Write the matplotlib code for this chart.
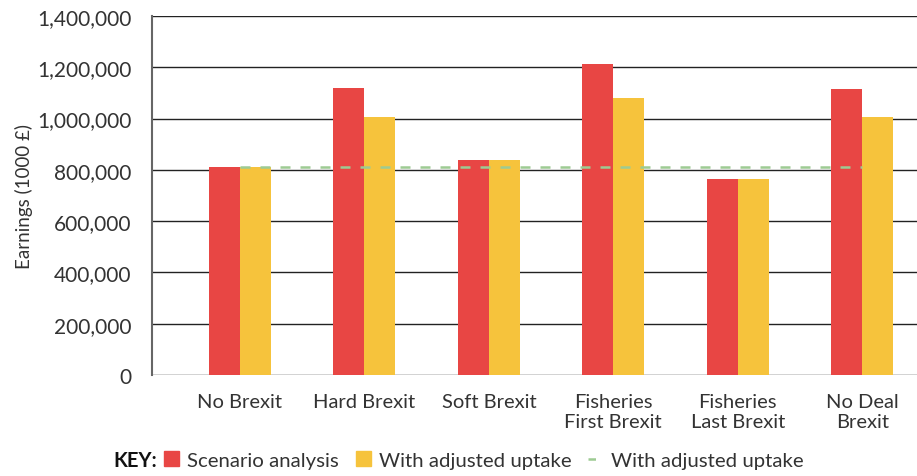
import matplotlib
matplotlib.use('Agg')
import matplotlib.pyplot as plt
from matplotlib.patches import Patch
from matplotlib.lines import Line2D
from matplotlib.ticker import FuncFormatter
import numpy as np

# data
scenarios = ['No Brexit', 'Hard Brexit', 'Soft Brexit', 'Fisheries\nFirst Brexit',
             'Fisheries\nLast Brexit', 'No Deal\nBrexit']
scenario_analysis = [811000, 1119000, 838000, 1213000, 764000, 1115000]
adjusted_uptake = [811000, 1006000, 838000, 1080000, 764000, 1006000]
baseline = 811000  # dashed reference line

red = '#E84644'
yellow = '#F6C33C'
green = '#9DCB93'
txt = '#333333'

plt.rcParams['font.family'] = ['Lato', 'DejaVu Sans']

fig = plt.figure(figsize=(9.17, 4.77), dpi=100)
ax = fig.add_axes([152/917, 1 - 376/477, 1 - 152/917, 359/477])

x = np.arange(len(scenarios))
w = 0.25
ax.bar(x - w/2, scenario_analysis, width=w, color=red, zorder=3)
ax.bar(x + w/2, adjusted_uptake, width=w, color=yellow, zorder=3)
ax.plot([x[0], x[-1]], [baseline, baseline], ls=(0, (4, 4)), color=green, lw=1.8, zorder=4)

ax.set_ylim(0, 1400000)
ax.set_xlim(-0.706, 5.44)
ax.set_yticks(np.arange(0, 1400001, 200000))
ax.yaxis.set_major_formatter(FuncFormatter(lambda v, p: f'{int(v):,}'))
ax.yaxis.grid(True, color='#222222', lw=1.0, zorder=0)
ax.set_axisbelow(True)
for s in ['top', 'right', 'bottom']:
    ax.spines[s].set_visible(False)
ax.spines['left'].set_color('#666666')
ax.spines['left'].set_linewidth(1.5)

ax.set_xticks(x)
ax.set_xticklabels(scenarios, fontsize=14.5, color=txt, linespacing=1.2)
ax.tick_params(axis='x', length=0, pad=13)
ax.tick_params(axis='y', length=0, pad=15, labelsize=15, labelcolor=txt)
ax.set_ylabel('Earnings (1000 £)', fontsize=13.5, color=txt)
ax.yaxis.set_label_coords(-0.156, 0.5)

fig.text(113/917, 1 - 461/477, 'KEY:', fontsize=14.5, fontweight='bold', color='#111111',
         va='center', ha='left')
handles = [Patch(color=red), Patch(color=yellow),
           Line2D([0], [0], color=green, ls=(0, (3, 3)), lw=1.8)]
labels = ['Scenario analysis', 'With adjusted uptake', 'With adjusted uptake']
leg = fig.legend(handles, labels, loc='center left', bbox_to_anchor=(164/917, 1 - 461/477),
                 ncol=3, frameon=False, fontsize=14.7, handlelength=0.75, handleheight=0.75,
                 handletextpad=0.4, columnspacing=0.8, borderpad=0, borderaxespad=0)
for t in leg.get_texts():
    t.set_color(txt)

plt.savefig('out.png', dpi=100)
